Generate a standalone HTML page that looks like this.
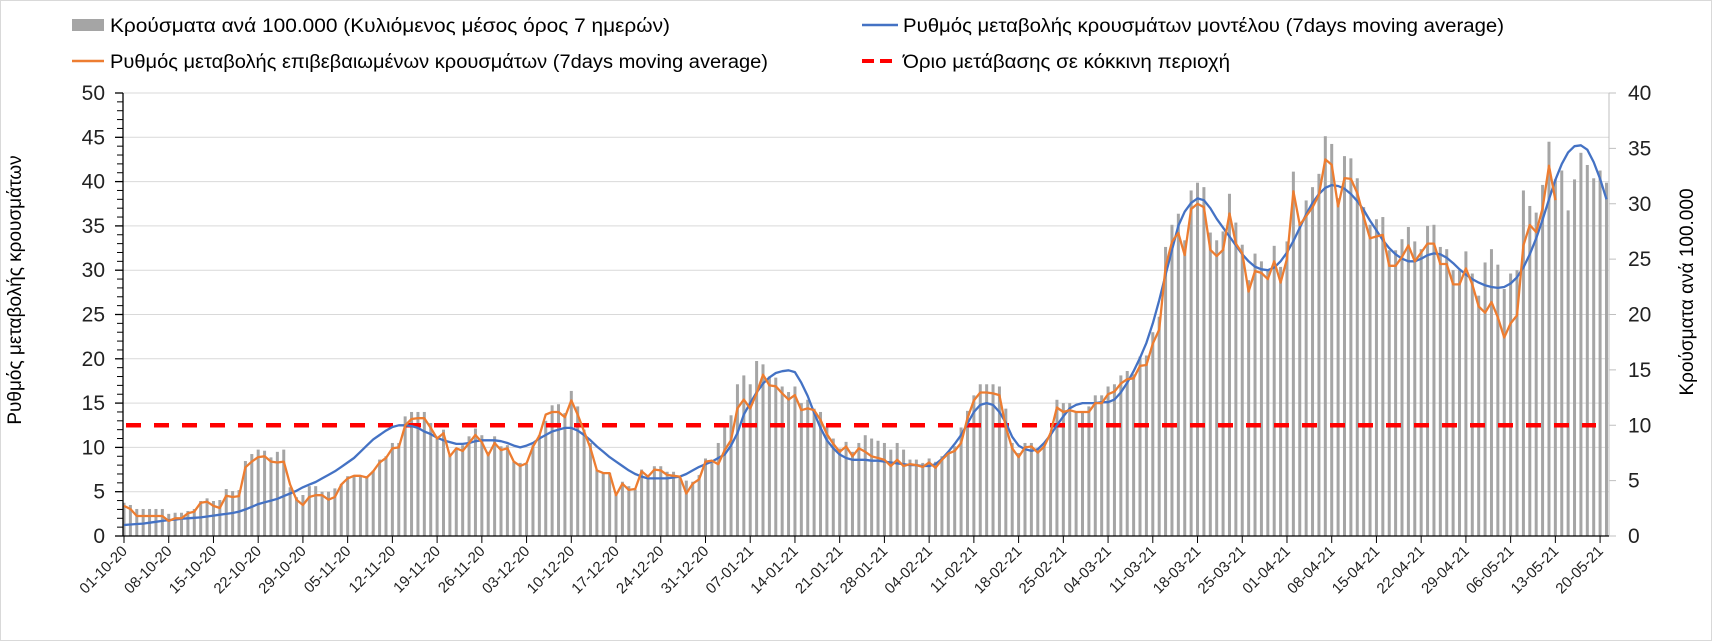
<!DOCTYPE html>
<html><head><meta charset="utf-8"><style>
html,body{margin:0;padding:0;background:#fff;}
svg{display:block;font-family:"Liberation Sans",sans-serif;}
</style></head><body>
<svg id="chart" width="1712" height="641" viewBox="0 0 1712 641">
<rect x="0.5" y="0.5" width="1711" height="640" fill="#fff" stroke="#d9d9d9"/>
<g id="legend">
 <g><rect x="72" y="19" width="32" height="12" fill="#a5a5a5"/><text x="110" y="32" font-size="19" fill="#000" textLength="560" lengthAdjust="spacingAndGlyphs">Κρούσματα ανά 100.000 (Κυλιόμενος μέσος όρος 7 ημερών)</text></g>
 <g><line x1="72" y1="61" x2="104" y2="61" stroke="#ed7d31" stroke-width="2.5"/><text x="110" y="68" font-size="19" fill="#000" textLength="658" lengthAdjust="spacingAndGlyphs">Ρυθμός μεταβολής επιβεβαιωμένων κρουσμάτων (7days moving average)</text></g>
 <g><line x1="862" y1="25" x2="898" y2="25" stroke="#4472c4" stroke-width="2.5"/><text x="903" y="32" font-size="19" fill="#000" textLength="601" lengthAdjust="spacingAndGlyphs">Ρυθμός μεταβολής κρουσμάτων μοντέλου (7days moving average)</text></g>
 <g><line x1="862" y1="61" x2="898" y2="61" stroke="#ff0000" stroke-width="4" stroke-dasharray="12,6"/><text x="903" y="68" font-size="19" fill="#000" textLength="327" lengthAdjust="spacingAndGlyphs">Όριο μετάβασης σε κόκκινη περιοχή</text></g>
</g>
<text x="16" y="290" font-size="19" fill="#000" text-anchor="middle" dominant-baseline="middle" transform="rotate(-90 16 290)">Ρυθμός μεταβολής κρουσμάτων</text>
<text x="1688" y="292" font-size="19" fill="#000" text-anchor="middle" dominant-baseline="middle" transform="rotate(-90 1688 292)">Κρούσματα ανά 100.000</text>
<g id="grid"></g><g id="bars"></g><g id="lines"></g><g id="axes"></g>
</svg>
<script>
const startLabelDates = ["01-10-20","08-10-20","15-10-20","22-10-20","29-10-20","05-11-20","12-11-20","19-11-20","26-11-20","03-12-20","10-12-20","17-12-20","24-12-20","31-12-20","07-01-21","14-01-21","21-01-21","28-01-21","04-02-21","11-02-21","18-02-21","25-02-21","04-03-21","11-03-21","18-03-21","25-03-21","01-04-21","08-04-21","15-04-21","22-04-21","29-04-21","06-05-21","13-05-21","20-05-21"];
const leftTicks = [0,5,10,15,20,25,30,35,40,45,50];
const rightTicks = [0,5,10,15,20,25,30,35,40];
const redThreshold = 12.5;
const casesPer100k = [
3.0,2.8,2.44,2.44,2.44,2.44,2.44,2.0,2.1,2.1,
2.26,2.44,3.16,3.4,3.16,3.25,4.24,4.06,4.15,6.77,
7.4,7.8,7.7,7.1,7.6,7.8,4.4,3.5,3.7,4.5,
4.5,4.0,4.0,4.3,4.7,5.4,5.4,5.4,5.4,5.9,
6.9,7.2,8.4,8.4,10.8,11.2,11.2,11.2,10.2,8.8,
9.6,7.3,7.9,8.2,9.0,9.7,9.1,7.6,9.0,8.1,
8.2,6.7,6.6,6.5,8.2,9.1,10.4,11.8,11.9,11.1,
13.1,11.7,9.6,8.4,6.0,5.7,5.7,3.9,4.9,4.5,
4.2,6.0,5.5,6.3,6.3,5.8,5.8,5.4,5.0,4.9,
5.5,7.0,6.8,8.4,9.9,10.9,13.7,14.5,13.7,15.8,
15.5,14.4,14.3,13.5,13.0,13.5,12.0,12.3,11.5,11.2,
9.9,8.8,7.9,8.5,7.6,8.4,9.1,8.8,8.6,8.4,
7.8,8.4,7.8,6.9,6.9,6.6,7.0,6.7,7.2,7.5,
8.1,9.8,11.3,12.7,13.7,13.7,13.7,13.5,11.5,8.4,
7.5,8.4,8.4,7.8,8.1,9.3,12.3,12.0,12.0,11.2,
11.2,11.7,12.7,12.7,13.5,13.7,14.5,14.9,14.6,16.2,
16.3,18.4,19.8,26.1,28.1,29.1,26.7,31.2,31.9,31.5,
27.4,26.7,27.5,30.9,28.3,26.3,23.1,25.5,24.8,24.1,
26.2,24.3,26.6,32.9,28.2,30.3,31.5,32.7,36.1,35.4,
30.5,34.3,34.1,32.3,29.7,28.1,28.6,28.8,25.8,25.8,
26.8,27.9,26.6,25.9,28.0,28.1,26.1,25.9,24.0,24.0,
25.7,23.7,21.7,24.7,25.9,24.5,22.3,23.7,24.0,31.2,
29.8,29.2,31.7,35.6,32.2,33.0,29.4,32.2,34.6,33.5,
32.3,33.0,31.9];
const confirmedRate = [
3.4,3.05,2.26,2.26,2.26,2.26,2.26,1.7,2.0,2.0,
2.56,2.75,3.76,3.87,3.4,3.16,4.55,4.4,4.5,7.75,
8.4,8.9,9.0,8.4,8.3,8.4,5.8,4.1,3.5,4.4,
4.6,4.6,4.1,4.4,5.8,6.5,6.8,6.8,6.6,7.3,
8.3,8.8,9.9,10.0,12.5,13.2,13.3,13.3,12.2,11.0,
11.6,9.0,9.9,9.6,10.5,11.4,10.6,9.1,10.5,9.7,
9.9,8.4,7.9,8.2,10.1,11.3,13.7,14.0,14.0,13.4,
15.3,13.7,11.8,9.9,7.4,7.1,7.1,4.6,5.9,5.2,
5.3,7.3,6.7,7.5,7.4,6.9,6.8,6.7,4.8,5.9,
6.4,8.4,8.5,8.1,9.7,10.8,14.4,15.4,14.4,16.1,
18.2,17.0,16.9,16.1,15.4,15.9,14.2,14.4,14.2,13.1,
11.5,10.4,9.5,10.1,9.0,9.9,9.5,9.0,8.8,8.6,
7.9,8.6,7.9,8.1,8.0,7.8,8.3,7.7,8.6,9.3,
9.6,10.5,13.3,15.3,16.2,16.2,16.1,15.9,12.3,9.9,
8.9,10.0,10.1,9.4,10.1,11.6,14.5,14.0,14.2,14.0,
14.0,14.0,15.0,15.0,16.0,16.3,17.2,17.7,17.8,19.2,
19.3,21.7,23.3,30.4,33.2,34.2,31.7,36.9,37.5,37.1,
32.3,31.6,32.3,36.4,33.0,31.9,27.6,29.9,29.7,29.0,
31.0,28.6,31.3,38.9,35.1,36.1,37.1,38.5,42.5,41.9,
37.2,40.4,40.3,38.7,36.0,33.6,33.8,34.0,30.5,30.5,
31.5,32.8,31.0,32.0,33.0,33.0,30.7,30.7,28.4,28.4,
30.2,28.4,25.9,25.2,26.4,24.7,22.4,24.0,24.9,32.8,
35.1,34.3,37.0,41.8,37.9];
const modelRate = [
1.24,1.3,1.35,1.4,1.5,1.6,1.7,1.8,1.85,1.95,
2.0,2.05,2.1,2.2,2.3,2.4,2.5,2.6,2.75,3.0,
3.3,3.6,3.8,4.0,4.2,4.5,4.8,5.1,5.5,5.8,
6.1,6.5,6.9,7.3,7.8,8.3,8.8,9.5,10.2,10.9,
11.4,11.9,12.3,12.5,12.5,12.4,12.2,11.8,11.5,11.1,
10.8,10.6,10.4,10.4,10.5,10.7,10.8,10.8,10.8,10.7,
10.5,10.2,10.0,10.2,10.5,11.0,11.4,11.8,12.0,12.2,
12.2,11.9,11.4,10.8,10.1,9.5,8.9,8.4,7.9,7.4,
7.0,6.7,6.5,6.5,6.5,6.5,6.6,6.7,7.0,7.4,
7.8,8.1,8.4,8.8,9.2,10.2,11.6,13.7,15.0,16.2,
17.2,17.9,18.4,18.6,18.7,18.5,17.3,15.8,13.9,12.2,
10.8,9.9,9.2,8.8,8.6,8.6,8.6,8.5,8.5,8.4,
8.3,8.2,8.1,8.0,8.0,7.9,7.9,8.1,8.7,9.5,
10.4,11.4,12.7,14.0,14.8,15.0,14.8,14.0,12.8,11.2,
10.2,9.8,9.6,9.8,10.5,11.4,12.5,13.5,14.4,14.8,
15.0,15.0,15.0,15.1,15.1,15.4,16.2,17.3,18.6,20.1,
21.8,24.0,26.6,29.5,32.3,35.0,36.6,37.6,38.1,37.9,
37.0,35.8,34.8,33.8,32.8,31.8,31.0,30.4,30.1,30.0,
30.3,31.0,32.0,33.3,34.8,36.3,37.6,38.6,39.3,39.6,
39.5,39.2,38.6,37.8,36.8,35.6,34.5,33.4,32.5,31.8,
31.3,31.0,31.0,31.3,31.7,31.9,31.8,31.4,30.8,30.1,
29.5,29.0,28.6,28.3,28.1,28.0,28.1,28.5,29.2,30.3,
31.8,33.6,35.7,38.0,40.2,42.0,43.3,44.0,44.1,43.6,
42.2,40.3,38.0];

const NS = "http://www.w3.org/2000/svg";
const X0 = 124, DX = 6.39, AXL = 123, AXR = 1609, Y0 = 536, YTOP = 93;
function xs(d){ return X0 + DX*d; }
function yl(v){ return Y0 - (Y0-YTOP)*v/50; }
function yr(v){ return Y0 - (Y0-YTOP)*v/40; }
function mk(tag, attrs, parent){ const e=document.createElementNS(NS,tag); for(const k in attrs) e.setAttribute(k,attrs[k]); parent.appendChild(e); return e; }
const grid=document.getElementById('grid'), bars=document.getElementById('bars'), lines=document.getElementById('lines'), axes=document.getElementById('axes');

leftTicks.forEach(v=>{
  if(v>0){ const g=mk('line',{x1:AXL,x2:AXR,y1:yl(v),y2:yl(v),stroke:'#d9d9d9','stroke-width':1},grid);
  
   }
  const t=mk('text',{x:105,y:yl(v)+7,'font-size':21,'text-anchor':'end',fill:'#222'},axes);
  t.textContent=v;
  
  
  const tk=mk('line',{x1:115,x2:AXL,y1:yl(v),y2:yl(v),stroke:'#000','stroke-width':1.3},axes);
  
  
});
for(let v=1; v<50; v++){ if(v%5===0) continue;
  const tk=mk('line',{x1:117,x2:AXL,y1:yl(v),y2:yl(v),stroke:'#000','stroke-width':1},axes);
  
  
}
rightTicks.forEach(v=>{
  const t=mk('text',{x:1628,y:yr(v)+7,'font-size':21,'text-anchor':'start',fill:'#222'},axes);
  t.textContent=v;
  
  
  const tk=mk('line',{x1:AXR,x2:AXR+7,y1:yr(v),y2:yr(v),stroke:'#bfbfbf','stroke-width':1},axes);
  
  
});
const la=mk('line',{x1:AXL,x2:AXL,y1:YTOP,y2:Y0,stroke:'#000','stroke-width':1.3},axes);


const ra=mk('line',{x1:AXR,x2:AXR,y1:YTOP,y2:Y0,stroke:'#bfbfbf','stroke-width':1},axes);


const xa=mk('line',{x1:AXL,x2:AXR,y1:Y0,y2:Y0,stroke:'#000','stroke-width':1.3},axes);



casesPer100k.forEach((v,d)=>{
  const b=mk('rect',{x:xs(d)-1.5,y:yr(v),width:3,height:Y0-yr(v),fill:'#a5a5a5'},bars);
  
  
});
const red=mk('line',{x1:AXL+3,x2:1596,y1:yl(redThreshold),y2:yl(redThreshold),stroke:'#ff0000','stroke-width':4.5,'stroke-dasharray':'15,13'},lines);


function path(arr){ return arr.map((v,d)=>(d?'L':'M')+xs(d).toFixed(1)+' '+yl(v).toFixed(1)).join(' '); }
const bl=mk('path',{d:path(modelRate),fill:'none',stroke:'#4472c4','stroke-width':2.3,'stroke-linejoin':'round'},lines);


const ol=mk('path',{d:path(confirmedRate),fill:'none',stroke:'#ed7d31','stroke-width':2.3,'stroke-linejoin':'round'},lines);



startLabelDates.forEach((s,i)=>{
  const x=xs(i*7);
  const tk=mk('line',{x1:x,x2:x,y1:Y0,y2:Y0+7,stroke:'#000','stroke-width':1},axes);
  
  
  const t=mk('text',{x:x+4,y:Y0+16,'font-size':15,'text-anchor':'end',fill:'#222',transform:'rotate(-45 '+(x+4)+' '+(Y0+16)+')'},axes);
  t.textContent=s;
  
  
});
</script>
</body></html>
